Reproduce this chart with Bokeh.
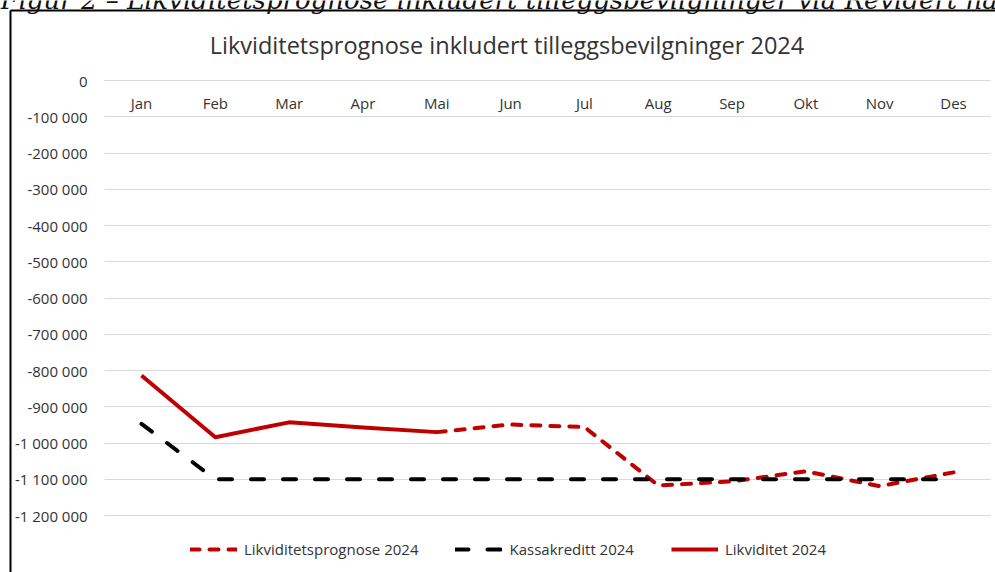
from bokeh.plotting import figure
from bokeh.models import (Range1d, LinearAxis, FixedTicker, Legend, LegendItem,
                          Label, Grid)
from bokeh.embed import file_html
from bokeh.resources import INLINE

# ---------------- data ----------------
months = ["Jan", "Feb", "Mar", "Apr", "Mai", "Jun", "Jul", "Aug", "Sep", "Okt", "Nov", "Des"]
y_ticks = [0, -100000, -200000, -300000, -400000, -500000, -600000,
           -700000, -800000, -900000, -1000000, -1100000, -1200000]
y_tick_labels = ["0", "-100 000", "-200 000", "-300 000", "-400 000", "-500 000", "-600 000",
                 "-700 000", "-800 000", "-900 000", "-1 000 000", "-1 100 000", "-1 200 000"]

likviditet_months = ["Jan", "Feb", "Mar", "Apr", "Mai"]
likviditet = [-814000, -984000, -943000, -957000, -970000]

prognose_months = ["Mai", "Jun", "Jul", "Aug", "Sep", "Okt", "Nov", "Des"]
prognose = [-970000, -949000, -956000, -1117000, -1106000, -1078000, -1119000, -1081000]

kassakreditt = [-947000, -1100000, -1100000, -1100000, -1100000, -1100000,
                -1100000, -1100000, -1100000, -1100000, -1100000, -1100000]

title_text = "Likviditetsprognose inkludert tilleggsbevilgninger 2024"
caption_text = "Figur 2 \u2013 Likviditetsprognose inkludert tilleggsbevilgninger via Revidert nasjonalbudsjett 2024"

RED = "#c00000"
GRID = "#d9d9d9"
TXT = "#333333"
FONT = "Open Sans"

# ---------------- layout anchors (page pixels) ----------------
W, H = 995, 572
CX0, CY0 = 0, 0                  # page position of the canvas
PX_FIRST, PX_LAST = 141.0, 953.0
PY_ZERO, PY_STEP = 80.0, 36.25   # page y of value 0, pixels per 100 000
ux = (PX_LAST - PX_FIRST) / (len(months) - 1)


def dx(px):
    return (px - PX_FIRST) / ux


def dy(py):
    return -(py - PY_ZERO) / PY_STEP * 100000


x_lo, x_hi = -0.5, len(months) - 0.5
p = figure(width=W, height=H,
           x_range=Range1d(dx(CX0), dx(CX0 + W)), y_range=Range1d(dy(CY0 + H), dy(CY0)),
           output_backend="svg", toolbar_location=None,
           x_axis_location=None, y_axis_location=None,
           min_border=0, min_border_left=0, min_border_right=0,
           min_border_top=0, min_border_bottom=0)
p.outline_line_color = None
p.background_fill_color = "white"
p.border_fill_color = "white"
p.center = [r for r in p.center if not isinstance(r, Grid)]

# chart-area border (left and top edges; right/bottom lie outside the window)
p.segment(x0=[dx(10), dx(10)], y0=[dy(10), dy(10)],
          x1=[dx(10), dx(CX0 + W + 5)], y1=[dy(CY0 + H + 5), dy(10)],
          line_color="black", line_width=2)

# horizontal gridlines limited to the plot area
yg = Grid(dimension=1, ticker=FixedTicker(ticks=y_ticks), grid_line_color=GRID, grid_line_width=1)
if "cross_bounds" in Grid.properties():
    yg.cross_bounds = (x_lo, x_hi)
    p.add_layout(yg)
else:
    p.segment(x0=[x_lo] * len(y_ticks), x1=[x_hi] * len(y_ticks), y0=y_ticks, y1=y_ticks,
              line_color=GRID, line_width=1)

ya = LinearAxis(ticker=FixedTicker(ticks=y_ticks),
                major_label_overrides={t: l for t, l in zip(y_ticks, y_tick_labels)},
                fixed_location=x_lo, axis_line_color=None,
                major_tick_line_color=None, minor_tick_line_color=None,
                major_tick_out=0, major_tick_in=0,
                major_label_standoff=17, major_label_text_font=FONT,
                major_label_text_font_size="15px", major_label_text_color=TXT)
p.add_layout(ya, "left")

xi = list(range(len(months)))
xa = LinearAxis(ticker=FixedTicker(ticks=xi),
                major_label_overrides={i: m for i, m in zip(xi, months)},
                fixed_location=0, bounds=(x_lo, x_hi),
                axis_line_color=GRID, axis_line_width=1,
                major_tick_line_color=None, minor_tick_line_color=None,
                major_tick_out=0, major_tick_in=0,
                major_label_standoff=12, major_label_text_font=FONT,
                major_label_text_font_size="15px", major_label_text_color=TXT)
p.add_layout(xa, "below")

# ---------------- series ----------------
px_ = [months.index(m) for m in prognose_months]
r_prog = p.line(px_, prognose, line_color=RED, line_width=4,
                line_dash="9 10", line_cap="round", line_join="round")

r_kasse = p.line(xi, kassakreditt, line_color="black", line_width=4,
                 line_dash="13 19", line_cap="round")

lx = [months.index(m) for m in likviditet_months]
r_likv = p.line(lx, likviditet, line_color=RED, line_width=4, line_join="round")

# ---------------- legend ----------------
legend = Legend(items=[LegendItem(label="Likviditetsprognose 2024", renderers=[r_prog]),
                       LegendItem(label="Kassakreditt 2024", renderers=[r_kasse]),
                       LegendItem(label="Likviditet 2024", renderers=[r_likv])],
                location=(190, 13), orientation="horizontal",
                glyph_width=47, glyph_height=20, label_standoff=7, spacing=37,
                padding=0, margin=0, border_line_color=None, background_fill_alpha=0,
                label_text_font=FONT, label_text_font_size="15px",
                label_text_color=TXT)
p.add_layout(legend)

# ---------------- title, caption ----------------
TEXT_SHIFT = 8   # measured offset of canvas-unit labels
p.add_layout(Label(x=506.5 - CX0, y=52.5 - TEXT_SHIFT - CY0, x_units="canvas", y_units="canvas",
                   text=title_text, text_align="center", text_baseline="alphabetic",
                   text_font=FONT, text_font_size="23.5px", text_color=TXT))
p.add_layout(Label(x=0 - CX0, y=7 - TEXT_SHIFT - CY0, x_units="canvas", y_units="canvas",
                   text=caption_text, text_align="left", text_baseline="alphabetic",
                   text_font="DejaVu Serif", text_font_style="italic",
                   text_font_size="26px", text_color="#111111"))

open("out.html", "w").write(file_html(p, INLINE))
